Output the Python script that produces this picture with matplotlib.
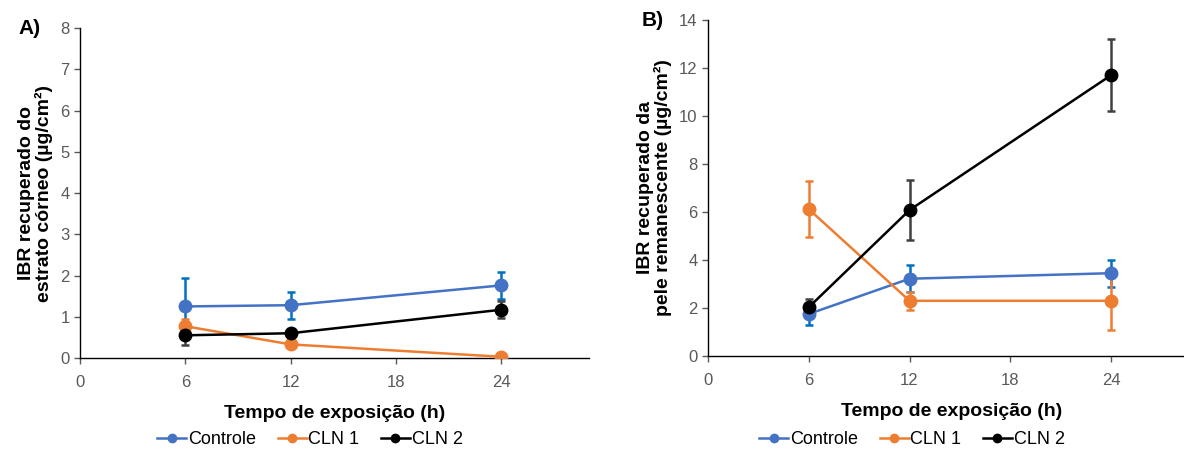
import numpy as np
import matplotlib.pyplot as plt
from matplotlib.lines import Line2D

plt.rcParams['font.family'] = ['Liberation Sans', 'DejaVu Sans']

# Exposure times (h)
tempo = [6, 12, 24]
series = ['Controle', 'CLN 1', 'CLN 2']

# A) stratum corneum (ug/cm2): mean and standard deviation
a_controle = [1.25, 1.28, 1.76]
a_controle_sd = [0.68, 0.33, 0.33]
a_cln1 = [0.77, 0.33, 0.03]
a_cln1_sd = [0.18, 0.05, 0.02]
a_cln2 = [0.55, 0.60, 1.17]
a_cln2_sd = [0.24, 0.05, 0.21]

# B) remaining skin (ug/cm2)
b_controle = [1.75, 3.22, 3.45]
b_controle_sd = [0.47, 0.56, 0.57]
b_cln1 = [6.12, 2.30, 2.30]
b_cln1_sd = [1.16, 0.38, 1.20]
b_cln2 = [2.03, 6.08, 11.70]
b_cln2_sd = [0.35, 1.25, 1.50]

line_colors = ['#4472C4', '#ED7D31', '#000000']
err_colors = ['#0070C0', '#ED7D31', '#404040']
grey = '#595959'

fig = plt.figure(figsize=(11.84, 4.5), dpi=100)
W, H = 1184, 450
axA = fig.add_axes([80 / W, 1 - 358 / H, 509 / W, 330 / H])
axB = fig.add_axes([708 / W, 1 - 356 / H, 487 / W, 336 / H])


def draw(ax, values, sds, ymax, ystep, ylabel, tag, tag_x, tag_y, leg_x):
    for v, sd, lc, ec, name in zip(values, sds, line_colors, err_colors, series):
        ax.errorbar(tempo, v, yerr=sd, color=lc, ecolor=ec, elinewidth=1.8,
                    capsize=3, capthick=1.8, lw=1.8, marker='o', ms=9,
                    label=name, zorder=3)
    ax.set_xlim(0, 29)
    ax.set_ylim(0, ymax)
    ax.set_xticks([0, 6, 12, 18, 24])
    ax.set_yticks(np.arange(0, ymax + 0.1, ystep))
    for s in ['top', 'right']:
        ax.spines[s].set_visible(False)
    for s in ['left', 'bottom']:
        ax.spines[s].set_color('#000000')
        ax.spines[s].set_linewidth(1.0)
    ax.tick_params(colors=grey, labelsize=12, length=4, width=1)
    ax.tick_params(axis='x', pad=8)
    ax.set_xlabel('Tempo de exposição (h)', fontsize=14, fontweight='bold',
                  labelpad=11)
    ax.set_ylabel(ylabel, fontsize=14, fontweight='bold', labelpad=5,
                  linespacing=1.0)
    fig.text(tag_x / W, 1 - tag_y / H, tag, fontsize=15, fontweight='bold',
             ha='left', va='center')
    handles = [Line2D([], [], color=c, lw=1.8, marker='o', ms=6)
               for c in line_colors]
    fig.legend(handles, series, loc='center', bbox_to_anchor=(leg_x / W, 1 - 440 / H),
               ncol=3, frameon=False, fontsize=13, handlelength=1.6,
               handletextpad=0.1, columnspacing=1.2)


draw(axA, [a_controle, a_cln1, a_cln2], [a_controle_sd, a_cln1_sd, a_cln2_sd],
     8, 1, 'IBR recuperado do\nestrato córneo (µg/cm²)', 'A)', 18, 28, 310)
draw(axB, [b_controle, b_cln1, b_cln2], [b_controle_sd, b_cln1_sd, b_cln2_sd],
     14, 2, 'IBR recuperado da\npele remanescente (µg/cm²)', 'B)', 642, 20, 912)

fig.savefig('out.png', dpi=100)
